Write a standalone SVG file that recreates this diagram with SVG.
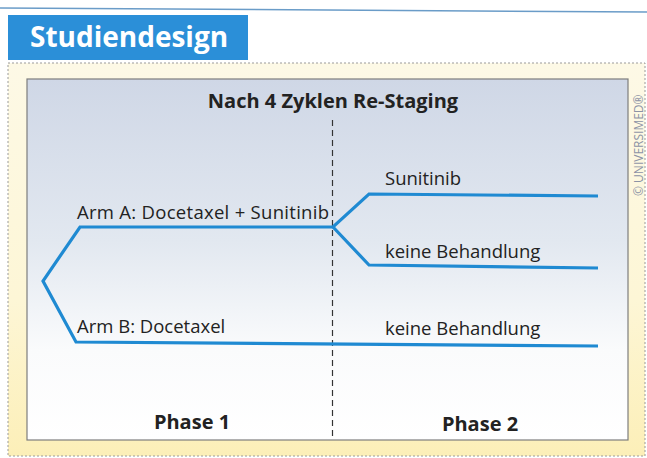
<svg xmlns="http://www.w3.org/2000/svg" width="647" height="458" viewBox="0 0 647 458">
<defs>
<linearGradient id="bg" x1="0" y1="0" x2="0" y2="1">
<stop offset="0" stop-color="#fdf9e6"/>
<stop offset="0.6" stop-color="#fdf6d6"/>
<stop offset="1" stop-color="#fcefb8"/>
</linearGradient>
<linearGradient id="panel" x1="0" y1="0" x2="0" y2="1">
<stop offset="0" stop-color="#cfd7e6"/>
<stop offset="0.45" stop-color="#e2e8f0"/>
<stop offset="0.75" stop-color="#fafbfc"/>
<stop offset="1" stop-color="#ffffff"/>
</linearGradient>
</defs>
<style>
.lbl{font-family:"Open Sans","Noto Sans",sans-serif;font-size:18.5px;fill:#222}
.bold{font-family:"Open Sans","Noto Sans",sans-serif;font-size:20px;font-weight:bold;fill:#222}
.arm{fill:none;stroke:#1f8ad2;stroke-width:3.2;stroke-linejoin:miter}
</style>
<rect x="0" y="0" width="647" height="458" fill="#ffffff"/>
<line x1="0" y1="8" x2="647" y2="12" stroke="#6a9cc8" stroke-width="1.5"/>
<rect x="8" y="63" width="637" height="393" fill="url(#bg)" stroke="#9a9a9a" stroke-width="1" stroke-dasharray="2 2"/>
<g id="title">
<rect x="8" y="15" width="240" height="45" fill="#2b8fd8"/>
<text x="30" y="47" font-family="'Open Sans','Noto Sans',sans-serif" font-size="28" font-weight="bold" fill="#ffffff">Studiendesign</text>
</g>
<rect x="27" y="79" width="601" height="361" fill="url(#panel)" stroke="#7d7d7d" stroke-width="1.2"/>
<text transform="translate(643,196) rotate(-90)" font-family="'Open Sans','Noto Sans',sans-serif" font-size="12" fill="#8c93a6">© UNIVERSIMED®</text>
<g id="connectors">
<line x1="332.5" y1="120" x2="332.5" y2="440" stroke="#333" stroke-width="1.2" stroke-dasharray="6 4"/>
<polyline class="arm" points="598,196 369,194 333,227 80,227 43,281 76,342 598,346"/>
<polyline class="arm" points="333,227 369,265 598,268"/>
</g>
<g id="heading"><text class="bold" x="333" y="108" text-anchor="middle">Nach 4 Zyklen Re-Staging</text></g>
<g id="armA"><text class="lbl" x="77" y="219" textLength="252" lengthAdjust="spacing">Arm A: Docetaxel + Sunitinib</text></g>
<g id="armB"><text class="lbl" x="77" y="333">Arm B: Docetaxel</text></g>
<g id="sunitinib"><text class="lbl" x="385" y="185">Sunitinib</text></g>
<g id="keine1"><text class="lbl" x="385" y="258">keine Behandlung</text></g>
<g id="keine2"><text class="lbl" x="385" y="335">keine Behandlung</text></g>
<g id="phase1"><text class="bold" x="192" y="429" text-anchor="middle">Phase 1</text></g>
<g id="phase2"><text class="bold" x="480" y="431" text-anchor="middle">Phase 2</text></g>
</svg>
